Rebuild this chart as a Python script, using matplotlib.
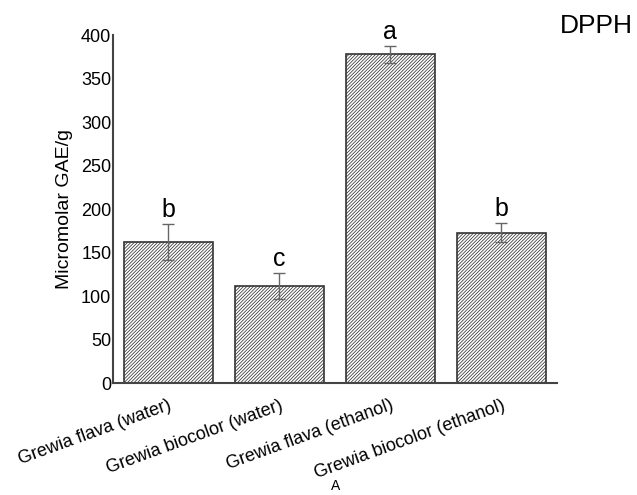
import numpy as np
import matplotlib.pyplot as plt

plt.rcParams['font.family'] = ['Liberation Sans', 'DejaVu Sans']
plt.rcParams['hatch.color'] = '#777777'
plt.rcParams['hatch.linewidth'] = 0.55

# DPPH scavenging, mean and SD per extract
extracts = ['Grewia flava (water)', 'Grewia biocolor (water)',
            'Grewia flava (ethanol)', 'Grewia biocolor (ethanol)']
dpph_mean = [162, 112, 378, 173]
dpph_sd = [21, 15, 10, 11]
groups = ['b', 'c', 'a', 'b']

fig = plt.figure(figsize=(6.37, 4.95), dpi=100)
ax = fig.add_axes([0.177, 0.226, 0.697, 0.703])

x = np.arange(len(extracts))
ax.bar(x, dpph_mean, width=0.8, color='white', edgecolor='#333333',
       linewidth=1.2, hatch='/' * 10)
ax.errorbar(x, dpph_mean, yerr=dpph_sd, fmt='none', ecolor='#666666',
            elinewidth=1, capsize=4, capthick=1)

# significance letters above the error bars
for xi, m, s, g in zip(x, dpph_mean, dpph_sd, groups):
    ax.text(xi, m + s + 2, g, ha='center', va='bottom', fontsize=18)

ax.set_xlim(-0.5, 3.5)
ax.set_ylim(0, 400)
ax.set_yticks(np.arange(0, 401, 50))
ax.set_xticks(x)
ax.set_xticklabels(extracts, rotation=20, ha='right', rotation_mode='anchor')
ax.tick_params(axis='both', length=0)
ax.tick_params(axis='x', pad=10, labelsize=13)
ax.tick_params(axis='y', pad=1, labelsize=13)
for lbl in ax.get_xticklabels():
    lbl.set_x(lbl.get_position()[0] + 0.05)
ax.set_ylabel('Micromolar GAE/g', fontsize=14, labelpad=6)

for side in ['top', 'right']:
    ax.spines[side].set_visible(False)
for side in ['left', 'bottom']:
    ax.spines[side].set_color('#444444')
    ax.spines[side].set_linewidth(1.5)

fig.text(0.937, 0.947, 'DPPH', ha='center', va='center', fontsize=19)
fig.text(0.527, 0.018, 'A', ha='center', va='center', fontsize=10)

fig.savefig('out.png', dpi=100)
